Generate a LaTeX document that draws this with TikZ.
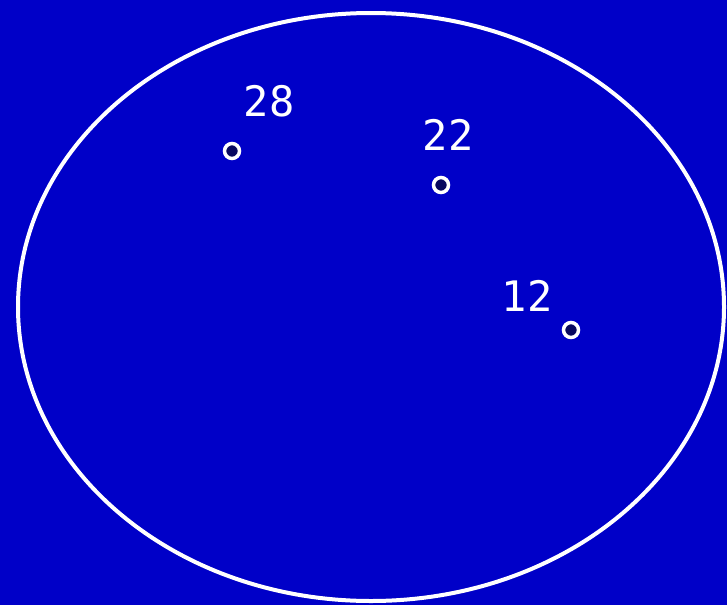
\documentclass[tikz,border=0pt]{standalone}
\usepackage{fontspec}
\newfontfamily\digitfont{DejaVu Sans Mono}
\definecolor{bg}{RGB}{0,0,200}
\definecolor{dotfill}{RGB}{8,8,96}
\tikzset{
  dot/.style={circle, draw=white, fill=dotfill, line width=3.5pt, minimum size=15pt, inner sep=0pt},
  lbl/.style={text=white, font=\digitfont\fontsize{42}{42}\selectfont, inner sep=0pt, anchor=center}
}
\begin{document}
\begin{tikzpicture}[x=1pt,y=-1pt]
\fill[bg] (0,0) rectangle (727,605);
\useasboundingbox (0,0) rectangle (727,605);
\draw[white, line width=4pt] (371,307) ellipse [x radius=353, y radius=294];
\node[dot] (d28) at (232,151) {};
\node[dot] (d22) at (441,185) {};
\node[dot] (d12) at (571,330) {};
\node[lbl] (l28) at (269,101) {28};
\node[lbl] (l22) at (448,135) {22};
\node[lbl] (l12) at (527,296) {12};
\end{tikzpicture}
\end{document}
